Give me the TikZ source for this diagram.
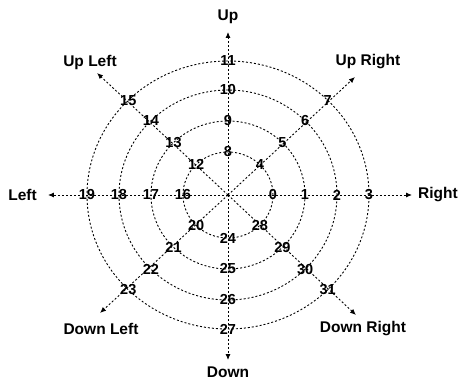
\documentclass[tikz,border=0pt]{standalone}
\usepackage{fontspec}
\setmainfont{Liberation Sans}
\usetikzlibrary{arrows.meta}

\begin{document}
\begin{tikzpicture}[x=1pt, y=1pt,
    ring/.style={dash pattern=on 2pt off 2pt, line width=0.9pt},
    ray/.style={dash pattern=on 2pt off 2pt, line width=0.9pt, -{Latex[length=6pt, width=5pt]}},
    num/.style={font=\fontsize{14.5}{15}\selectfont\bfseries, inner sep=0pt},
    dirlbl/.style={font=\fontsize{15.5}{16}\selectfont\bfseries, inner sep=0pt}
]
\useasboundingbox (-228,-188) rectangle (233,195);

\coordinate (o) at (0,0);

% rings
\foreach \rx/\ry in {45/43, 77/74, 109/105, 141/134}
    \draw[ring] (o) ellipse ({\rx} and {\ry});

% arrow ends
\coordinate (right) at (184,0);
\coordinate (upright) at (127,118);
\coordinate (up) at (0,163);
\coordinate (upleft) at (-131,122);
\coordinate (left) at (-180,0);
\coordinate (downleft) at (-128,-118);
\coordinate (down) at (0,-165);
\coordinate (downright) at (128,-120);

\foreach \d in {right, upright, up, upleft, left, downleft, down, downright}
    \draw[ray] (o) -- (\d);

% direction labels
\node[dirlbl, anchor=west] (lright) at (190,0) {Right};
\node[dirlbl] (lupright) at (140,133) {Up Right};
\node[dirlbl] (lup) at (0,178) {Up};
\node[dirlbl] (lupleft) at (-138,133) {Up Left};
\node[dirlbl, anchor=east] (lleft) at (-191,0) {Left};
\node[dirlbl] (ldownleft) at (-127,-134) {Down Left};
\node[dirlbl] (ldown) at (0,-177) {Down};
\node[dirlbl] (ldownright) at (135,-134) {Down Right};

% numbered points
\foreach \d in {0,...,7}
    \foreach \r/\rx/\ry in {0/45/43, 1/77/74, 2/109/105, 3/141/134} {
        \pgfmathtruncatemacro{\k}{4*\d+\r}
        \node[num] (n\k) at ({45*\d}:{\rx} and {\ry}) {\k};
    }
\end{tikzpicture}
\end{document}
